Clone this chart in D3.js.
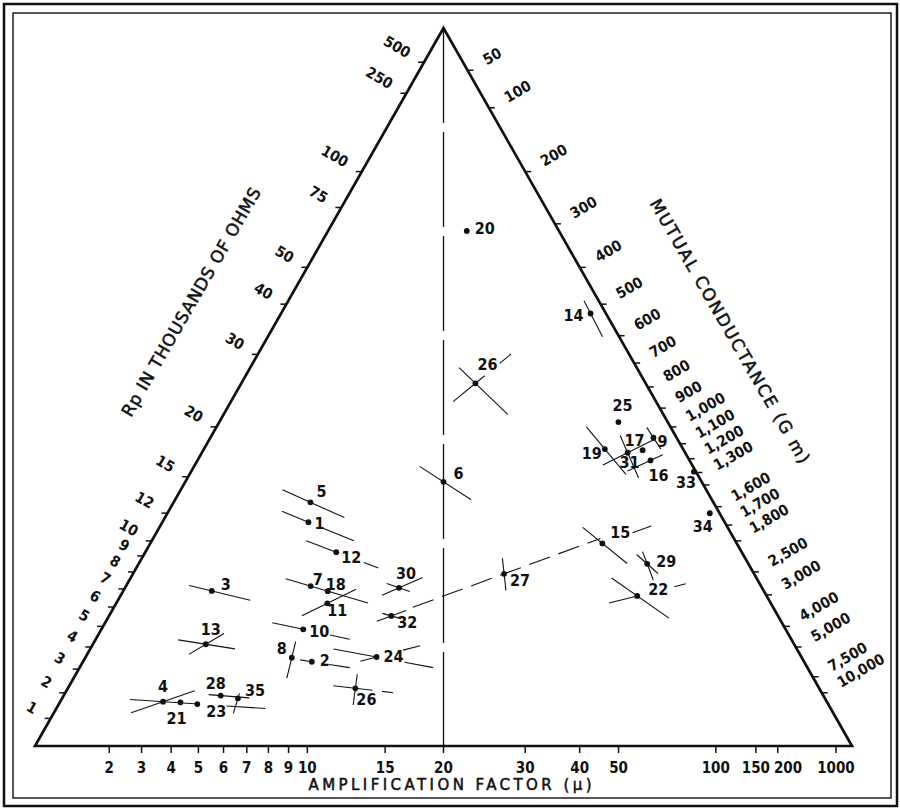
<!DOCTYPE html>
<html>
<head>
<meta charset="utf-8">
<script src="https://d3js.org/d3.v7.min.js"></script>
<style>
body { margin: 0; background: #fff; }
text { font-family: "Liberation Sans Narrow", "DejaVu Sans Condensed", sans-serif; fill: #111; }
.title { font-family: "DejaVu Sans", sans-serif; stroke: #111; stroke-width: 0.5px; }
</style>
</head>
<body>
<div id="chart"></div>
<script>
// centre values of the nomogram: mu = gm * rp, so gm centre = 1000 * MU0 / RP0 = 800
var MU0 = 20, RP0 = 25, GM0 = 1000 * MU0 / RP0;

// scale values
var muTicks = [2, 3, 4, 5, 6, 7, 8, 9, 10, 15, 20, 30, 40, 50, 100, 150, 200, 1000];
var rpTicks = [1, 2, 3, 4, 5, 6, 7, 8, 9, 10, 12, 15, 20, 30, 40, 50, 75, 100, 250, 500];
var gmTicks = [50, 100, 200, 300, 400, 500, 600, 700, 800, 900, 1000, 1100, 1200, 1300, 1400,
               1600, 1800, 2000, 2500, 3000, 4000, 5000, 7500, 10000];
var gmLabels = [50, 100, 200, 300, 400, 500, 600, 700, 800, 900, 1000, 1100, 1200, 1300,
                1600, 1700, 1800, 2500, 3000, 4000, 5000, 7500, 10000];

// tubes: [key, mu, rp in thousands of ohms]
var tubes = [
    ["1", 7.02, 15.3], ["2", 9.3, 4.87], ["3", 3.21, 7.99], ["4", 3.1, 1.9],
    ["5", 6.79, 17.2], ["6", 20, 29.1], ["7", 8.2, 10.1], ["8", 8.1, 4.93],
    ["9", 383, 379], ["10", 8.37, 6.88], ["11", 9.52, 9.15], ["12", 9.42, 13.6],
    ["13", 3.84, 4.92], ["14", 403, 801], ["15", 67.3, 42.9], ["16", 232, 208],
    ["17", 214, 205], ["18", 9.38, 10.1], ["19", 102.5, 108], ["20", 30.1, 159],
    ["21", 3.73, 1.92], ["22", 79.9, 33.0], ["23", 4.39, 1.89], ["24", 13.7, 5.96],
    ["25", 162, 187], ["26a", 27.5, 60.6], ["26b", 12.4, 3.54], ["27", 29.7, 19.6],
    ["28", 5.21, 2.38], ["29", 100.5, 51.2], ["30", 15.1, 12.4], ["31", 148, 145],
    ["32", 14.6, 9.57], ["33", 5000, 3880], ["34", 1106, 675], ["35", 5.99, 2.31]
];

// pieces of the index lines through a tube
// r = constant rp (range in mu), g = constant gm (range in mu), u = constant mu (range in rp)
var segments = [
    ["1", "r", 5.2, 7.02], ["1", "r", 8.1, 10.6],
    ["2", "r", 8.6, 9.3], ["2", "r", 10.4, 11.8],
    ["3", "r", 2.2, 5.1],
    ["4", "r", 1.97, 4.42], ["4", "g", 2.2, 4.1],
    ["5", "r", 4.8, 9.5],
    ["6", "r", 16.5, 24.6],
    ["7", "r", 6.6, 12.5],
    ["8", "u", 3.66, 5.97],
    ["9", "r", 360, 410],
    ["10", "r", 6.56, 8.37], ["10", "r", 10.1, 11.5],
    ["11", "g", 8.1, 11.4],
    ["12", "r", 7.2, 9.42], ["12", "r", 11.7, 13.0],
    ["13", "r", 2.7, 5.15], ["13", "g", 3.33, 4.43],
    ["14", "u", 701, 863],
    ["15", "r", 58.4, 80.7], ["15", "g", 97, 130],
    ["16", "g", 128, 391],
    ["19", "r", 88, 122],
    ["22", "r", 66.4, 101.8], ["22", "g", 61, 79.9], ["22", "g", 126, 151],
    ["23", "r", 5.6, 7.4],
    ["24", "r", 10.5, 13.7], ["24", "r", 16.1, 18.9], ["24", "g", 12.5, 13.7], ["24", "g", 15.9, 17.5],
    ["26a", "r", 23.5, 36.5], ["26a", "g", 21.9, 30.5], ["26a", "g", 36.7, 42.9],
    ["26b", "u", 2.45, 4.5], ["26b", "r", 10.9, 13.66], ["26b", "r", 14.4, 15.3],
    ["27", "u", 17.2, 22.0],
    ["28", "r", 4.7, 6.5],
    ["29", "r", 92.6, 109.5], ["29", "u", 45.3, 55.9],
    ["30", "g", 13.6, 17.5], ["30", "r", 13.9, 16.2],
    ["31", "g", 91.5, 390], ["31", "u", 125, 160],
    ["32", "g", 13.4, 15.95], ["32", "r", 13.8, 15.5],
    ["35", "u", 1.55, 2.57]
];
var dashedSegments = [["27", "g", 16.6, 67]];

// where each tube number sits relative to its dot
var labelOffset = {
    "1": [11, 1], "2": [13, -1], "3": [14, -7], "4": [0, -15], "5": [11, -11],
    "6": [15, -8], "7": [7, -7], "8": [-10, -9], "9": [9, 4], "10": [16, 2],
    "11": [10, 7], "12": [15, 5], "13": [5, -15], "14": [-17, 2], "15": [18, -11],
    "16": [8, 15], "17": [-8, -10], "18": [8, -7], "19": [-13, 4], "20": [18, -2],
    "21": [-4, 16], "22": [21, -7], "23": [19, 7], "24": [17, -1], "25": [4, -17],
    "26a": [12, -19], "26b": [11, 11], "27": [16, 7], "28": [-5, -12], "29": [19, -2],
    "30": [7, -14], "31": [2, 10], "32": [16, 6], "33": [-8, 11], "34": [-7, 13],
    "35": [17, -8]
};

// triangle: left corner (0,0), right corner (1,0), apex (0.5,1)
var tri = d3.scaleLinear().domain([0, 1]).range([35, 852]);
var up = d3.scaleLinear().domain([0, 1]).range([746, 28]);

// barycentric weights: apex ~ rp, left corner 1, right corner ~ mu
function place(mu, rp) {
    var a = rp / RP0, b = 1, c = mu / MU0, s = a + b + c;
    return [tri((0.5 * a + c) / s), up(a / s)];
}
// point on the gm side (apex to right corner), s = share of the way down
function edgeGm(s) { return [tri(0.5 * (1 - s) + s), up(1 - s)]; }
function placeGm(gm) { return edgeGm(gm / (gm + GM0)); }

var byKey = {};
tubes.forEach(function(t) { byKey[t[0]] = t; });

function segEnds(seg) {
    var t = byKey[seg[0]], mu = t[1], rp = t[2];
    return [seg[2], seg[3]].map(function(v) {
        if (seg[1] === "r") return place(v, rp);
        if (seg[1] === "g") return place(v, v * rp / mu);
        return place(mu, v);
    });
}

var svg = d3.select("#chart").append("svg")
    .attr("width", 900)
    .attr("height", 809);

svg.append("rect").attr("width", 900).attr("height", 809).attr("fill", "#fff");

// double frame
svg.append("rect")
    .attr("x", 4).attr("y", 4).attr("width", 893).attr("height", 802)
    .attr("fill", "none").attr("stroke", "#111").attr("stroke-width", 2.5);
svg.append("rect")
    .attr("x", 13).attr("y", 13).attr("width", 878).attr("height", 785)
    .attr("fill", "none").attr("stroke", "#111").attr("stroke-width", 1.4);

var apex = [tri(0.5), up(1)], leftC = [tri(0), up(0)], rightC = [tri(1), up(0)];

// centre line at mu = 20
var mid = place(MU0, 0);
svg.append("line")
    .attr("x1", apex[0]).attr("y1", apex[1]).attr("x2", mid[0]).attr("y2", mid[1])
    .attr("stroke", "#111").attr("stroke-width", 1.3)
    .attr("stroke-dasharray", "95,9");

svg.append("path")
    .attr("d", d3.line()([leftC, apex, rightC]) + "Z")
    .attr("fill", "none").attr("stroke", "#111")
    .attr("stroke-width", 2.7).attr("stroke-linejoin", "miter");

// mu scale along the base, labels nudged right if they would touch
var muAxis = svg.append("g").attr("stroke", "#111").attr("stroke-width", 1.5);
var lastRight = -Infinity;
muTicks.forEach(function(v) {
    var p = place(v, 0);
    muAxis.append("line").attr("x1", p[0]).attr("y1", p[1]).attr("x2", p[0]).attr("y2", p[1] + 7);
    var t = svg.append("text").attr("x", p[0]).attr("y", p[1] + 27)
        .attr("text-anchor", "middle")
        .style("font-size", "15px").style("font-weight", "bold")
        .text(v);
    var w = t.node().getComputedTextLength();
    var cx = Math.max(p[0], lastRight + 4 + w / 2);
    t.attr("x", cx);
    lastRight = cx + w / 2;
});

// rp scale on the left side
var nL = [-0.869, -0.494];
var rpAxis = svg.append("g").attr("stroke", "#111").attr("stroke-width", 1.5);
rpTicks.forEach(function(v) {
    var p = place(0, v);
    rpAxis.append("line").attr("x1", p[0] - 6).attr("y1", p[1]).attr("x2", p[0]).attr("y2", p[1]);
    var lx = p[0] + nL[0] * 17, ly = p[1] + nL[1] * 17;
    svg.append("text")
        .attr("transform", "translate(" + lx + "," + ly + ") rotate(30)")
        .attr("text-anchor", "end").attr("dy", "0.35em")
        .style("font-size", "15px").style("font-weight", "bold")
        .text(v);
});

// gm scale on the right side
var nR = [0.869, -0.494];
var gmAxis = svg.append("g").attr("stroke", "#111").attr("stroke-width", 1.5);
gmTicks.forEach(function(v) {
    var p = placeGm(v);
    gmAxis.append("line").attr("x1", p[0]).attr("y1", p[1]).attr("x2", p[0] + 6).attr("y2", p[1]);
});
// crowded labels are pushed down the side so they do not overlap
var lastY = -Infinity;
gmLabels.forEach(function(v) {
    var p = placeGm(v);
    if (p[1] < lastY + 16) p = edgeGm(1 - up.invert(lastY + 16));
    lastY = p[1];
    var lx = p[0] + nR[0] * 19, ly = p[1] + nR[1] * 19;
    svg.append("text")
        .attr("transform", "translate(" + lx + "," + ly + ") rotate(-30)")
        .attr("text-anchor", "start").attr("dy", "0.35em")
        .style("font-size", "15px").style("font-weight", "bold")
        .text(d3.format(",")(v));
});

// index lines through the tubes
svg.append("g").selectAll("line").data(segments).join("line")
    .each(function(d) {
        var e = segEnds(d);
        d3.select(this).attr("x1", e[0][0]).attr("y1", e[0][1]).attr("x2", e[1][0]).attr("y2", e[1][1]);
    })
    .attr("stroke", "#111").attr("stroke-width", 1.1);

svg.append("g").selectAll("line").data(dashedSegments).join("line")
    .each(function(d) {
        var e = segEnds(d);
        d3.select(this).attr("x1", e[0][0]).attr("y1", e[0][1]).attr("x2", e[1][0]).attr("y2", e[1][1]);
    })
    .attr("stroke", "#111").attr("stroke-width", 1.1).attr("stroke-dasharray", "22,9");

// tube dots and numbers
var dots = svg.append("g");
tubes.forEach(function(t) {
    var p = place(t[1], t[2]);
    var off = labelOffset[t[0]];
    dots.append("circle").attr("cx", p[0]).attr("cy", p[1]).attr("r", 2.9).attr("fill", "#111");
    dots.append("text")
        .attr("x", p[0] + off[0]).attr("y", p[1] + off[1])
        .attr("text-anchor", "middle").attr("dy", "0.35em")
        .style("font-size", "16px").style("font-weight", "bold")
        .text(t[0].replace(/[ab]$/, ""));
});

// scale titles
svg.append("text").attr("class", "title")
    .attr("x", 450).attr("y", 790)
    .attr("text-anchor", "middle")
    .attr("textLength", 283).attr("lengthAdjust", "spacing")
    .style("font-size", "15px")
    .text("AMPLIFICATION  FACTOR (\u03bc)");

svg.append("text").attr("class", "title")
    .attr("transform", "translate(191,302) rotate(-60)")
    .attr("text-anchor", "middle").attr("dy", "0.35em")
    .attr("textLength", 261).attr("lengthAdjust", "spacing")
    .style("font-size", "17px")
    .text("Rp IN THOUSANDS OF OHMS");

svg.append("text").attr("class", "title")
    .attr("transform", "translate(730,331) rotate(60)")
    .attr("text-anchor", "middle").attr("dy", "0.35em")
    .attr("textLength", 302).attr("lengthAdjust", "spacing")
    .style("font-size", "17px")
    .text("MUTUAL  CONDUCTANCE  (G m)");
</script>
</body>
</html>
